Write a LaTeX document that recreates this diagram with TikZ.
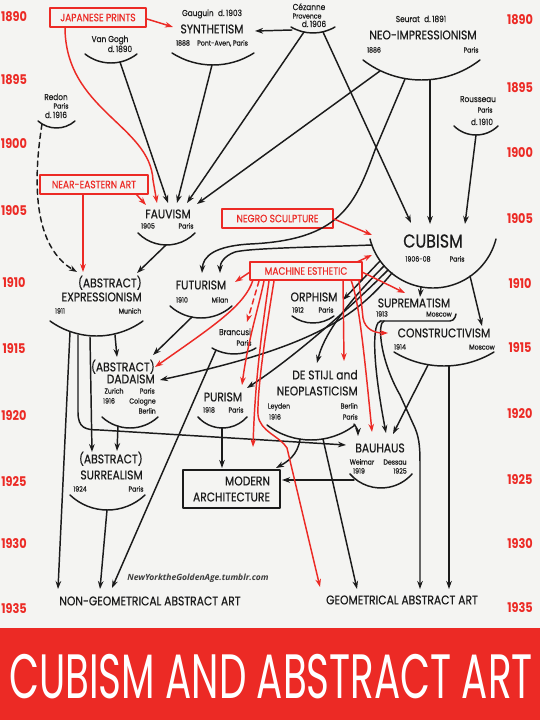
\documentclass[tikz,border=0pt]{standalone}
\usepackage{fontspec}
\setmainfont{Poppins}
\newfontfamily\chart[FakeStretch=0.85]{Poppins}
\newfontfamily\chartbold[FakeStretch=0.85,FakeBold=0.4]{Poppins}
\newfontfamily\titlefont[FakeStretch=0.62]{Poppins}
\newfontfamily\creditfont{Open Sans}
\usetikzlibrary{arrows.meta}
\definecolor{paper}{HTML}{F4F4F2}
\definecolor{barred}{HTML}{EC2A25}
\definecolor{ink}{HTML}{1B1B1B}

% bowl under a movement: centre x, level of the two ends, half width, depth
\newcommand\bowl[4]{%
  \pgfmathsetmacro\bowlr{(#3*#3+#4*#4)/(2*#4)}%
  \pgfmathsetmacro\bowlh{asin(#3/\bowlr)}%
  \draw[bowlline] ({#1-#3},#2) arc[start angle=90+\bowlh,end angle=90-\bowlh,radius=\bowlr];}

\begin{document}
\begin{tikzpicture}[x=0.75pt,y=-0.75pt,line cap=round,line join=round,
  >={Stealth[length=6pt,width=4.2pt]},
  movement/.style={font=\chartbold\fontsize{9.5}{11}\selectfont,text=ink,inner sep=0pt,text height=6.6pt,text depth=0pt},
  bigmove/.style={movement,font=\chartbold\fontsize{14}{16}\selectfont,text height=9.8pt},
  note/.style={font=\chartbold\fontsize{5.5}{6}\selectfont,text=ink,inner sep=0pt,text height=3.9pt,text depth=0pt},
  artist/.style={font=\chartbold\fontsize{6.5}{8}\selectfont,text=ink,inner sep=0pt,text height=4.6pt,text depth=0pt},
  source/.style={draw=barred,line width=1.2pt,text=barred,font=\chartbold\fontsize{8}{9}\selectfont,inner sep=0pt,text height=5.6pt,text depth=0pt},
  yearlabel/.style={font=\chart\bfseries\fontsize{10}{12}\selectfont,text=barred,inner sep=0pt,text height=7pt,text depth=0pt},
  link/.style={draw=ink,line width=1.1pt,->},
  redlink/.style={draw=barred,line width=1.1pt,->},
  bowlline/.style={draw=ink,line width=1.1pt},
  creditline/.style={font=\creditfont\bfseries\itshape\fontsize{6.4}{8}\selectfont,text=ink!85,inner sep=0pt}]
  \useasboundingbox (0,0) rectangle (540,720);
  \fill[paper] (0,0) rectangle (540,720);

  % Years down both margins.
  \foreach \yy/\ly/\ry in {1890/17/20,1895/80/88,1900/144/153,1905/211/219,1910/283/284,
      1915/349/348,1920/416/414,1925/482/480,1930/544/544,1935/609/608}{
    \node[yearlabel] (yl\yy) at (14,\ly) {\yy};
    \node[yearlabel] (yr\yy) at (520,\ry) {\yy};
  }

  % Sources from outside Europe.
  \node[source,minimum width=72pt,minimum height=14.25pt] (jp) at (98,17.5) {JAPANESE PRINTS};
  \node[source,minimum width=81pt,minimum height=14.25pt] (ne) at (94,184.5) {NEAR-EASTERN ART};
  \node[source,minimum width=83.25pt,minimum height=14.25pt] (ns) at (277.5,218.5) {NEGRO SCULPTURE};
  \node[source,minimum width=84pt,minimum height=13.5pt] (me) at (306,271) {MACHINE ESTHETIC};

  % Post-impressionist sources, 1886-1906.
  \node[artist] (gauguin) at (212,13) {Gauguin\enspace d.\,1903};
  \node[movement] (syn) at (212,29) {SYNTHETISM};
  \node[note] (syn-d) at (212,43) {1888\quad Pont-Aven, Paris};
  \bowl{213}{53}{41}{12}
  \node[artist] (vangogh) at (110,39) {Van Gogh};
  \node[artist] (vangogh-d) at (120,49) {d.\,1890};
  \bowl{111}{54}{26}{9}
  \node[artist] (cezanne) at (309,7) {Cézanne};
  \node[note] (cezanne-p) at (307,16) {Provence};
  \node[artist] (cezanne-d) at (314,24) {d.\,1906};
  \bowl{313}{27}{22}{6}
  \node[artist] (seurat) at (421,19) {Seurat\enspace d.\,1891};
  \node[movement] (neo) at (423,35) {NEO-IMPRESSIONISM};
  \node[note] (neo-y) at (374,50) {1886};
  \node[note] (neo-p) at (471,50) {Paris};
  \bowl{421.5}{60}{58.5}{20}
  \node[artist] (rousseau) at (478,99) {Rousseau};
  \node[note] (rousseau-p) at (485,110) {Paris};
  \node[artist] (rousseau-d) at (482,122) {d.\,1910};
  \bowl{476}{126}{22}{9}
  \node[artist] (redon) at (56,97) {Redon};
  \node[note] (redon-p) at (61,106) {Paris};
  \node[artist] (redon-d) at (56,115) {d.\,1916};
  \bowl{56.5}{121}{18.5}{7}

  % Fauvism and Cubism, 1905-1908.
  \node[movement] (fau) at (168,214) {FAUVISM};
  \node[note] (fau-y) at (148,226) {1905};
  \node[note] (fau-p) at (186,226) {Paris};
  \bowl{166.5}{233}{28.5}{12}
  \node[bigmove] (cub) at (433,241) {CUBISM};
  \node[note] (cub-y) at (418,259) {1906-08};
  \node[note] (cub-p) at (457,259) {Paris};
  \bowl{433}{239}{63}{49}

  % Movements of 1910-1916.
  \node[movement,anchor=east] (expr-a) at (142,283) {(ABSTRACT)};
  \node[movement,anchor=east] (expr) at (142,297) {EXPRESSIONISM};
  \node[note] (expr-y) at (60,311) {1911};
  \node[note] (expr-p) at (130,311) {Munich};
  \bowl{96.5}{321}{46.5}{15}
  \node[movement] (fut) at (201,285) {FUTURISM};
  \node[note] (fut-y) at (182,300) {1910};
  \node[note] (fut-p) at (220,300) {Milan};
  \bowl{201}{306}{31}{12}
  \node[movement] (orp) at (314,297) {ORPHISM};
  \node[note] (orp-y) at (298,310) {1912};
  \node[note] (orp-p) at (326,310) {Paris};
  \bowl{313}{316}{21}{7}
  \node[movement] (sup) at (414,303) {SUPREMATISM};
  \node[note] (sup-y) at (382,314) {1913};
  \node[note] (sup-p) at (439,314) {Moscow};
  \draw[bowlline,rounded corners=3pt] (380,321) -- (454,321) -- (456,314);
  \node[movement] (con) at (444,333) {CONSTRUCTIVISM};
  \node[note] (con-y) at (400,347) {1914};
  \node[note] (con-p) at (482,347) {Moscow};
  \bowl{444}{352}{50}{14}
  \node[artist] (brancusi) at (235,332) {Brancusi};
  \node[note] (brancusi-p) at (244,343) {Paris};
  \bowl{234}{348}{22}{6}

  % Dada, Purism, De Stijl, Bauhaus, Surrealism.
  \node[movement,anchor=east] (dada-a) at (155,367) {(ABSTRACT)};
  \node[movement,anchor=east] (dada) at (155,379) {DADAISM};
  \node[note] (dada-z) at (114,391) {Zurich};
  \node[note,anchor=east] (dada-p) at (155,391) {Paris};
  \node[note] (dada-y) at (109,401) {1916};
  \node[note,anchor=east] (dada-c) at (156,401) {Cologne};
  \node[note,anchor=east] (dada-b) at (156,411) {Berlin};
  \bowl{130}{417}{28}{11}
  \node[movement] (pur) at (223,397) {PURISM};
  \node[note] (pur-y) at (209,410) {1918};
  \node[note] (pur-p) at (236,410) {Paris};
  \bowl{222.5}{417}{24.5}{11}
  \node[movement,anchor=east] (stijl) at (358,375) {DE STIJL and};
  \node[movement,anchor=east] (neopl) at (358,391) {NEOPLASTICISM};
  \node[note] (stijl-l) at (279,406) {Leyden};
  \node[note] (stijl-y) at (275,417) {1916};
  \node[note,anchor=east] (stijl-b) at (358,406) {Berlin};
  \node[note,anchor=east] (stijl-p) at (358,417) {Paris};
  \bowl{311}{425}{44}{15}
  \node[movement] (bau) at (380,448) {BAUHAUS};
  \node[note] (bau-w) at (362,462) {Weimar};
  \node[note] (bau-d) at (395,462) {Dessau};
  \node[note] (bau-y1) at (359,471) {1919};
  \node[note] (bau-y2) at (400,471) {1925};
  \bowl{381}{474}{31}{14}
  \node[draw=ink,line width=1.2pt,font=\chartbold\fontsize{9.5}{12}\selectfont,text=ink,align=right,
    minimum width=72.75pt,minimum height=28.5pt,inner sep=2pt] (modarch) at (231.5,489) {MODERN\\ARCHITECTURE};
  \node[movement,anchor=east] (sur-a) at (143,459) {(ABSTRACT)};
  \node[movement,anchor=east] (sur) at (143,475) {SURREALISM};
  \node[note] (sur-y) at (80,489) {1924};
  \node[note] (sur-p) at (136,489) {Paris};
  \bowl{107.5}{495}{37.5}{15}

  % Outcomes, 1935.
  \node[movement] (nongeo) at (150,601) {NON-GEOMETRICAL ABSTRACT ART};
  \node[movement] (geo) at (402,600) {GEOMETRICAL ABSTRACT ART};
  \node[creditline] (credit) at (198,578) {NewYorktheGoldenAge.tumblr.com};

  % Where lines leave the bowls and boxes.
  \path (120,62) coordinate (vg-o) (212,65) coordinate (syn-o)
    (292,30) coordinate (cez-w) (304,32) coordinate (cez-o1) (323,32) coordinate (cez-o2)
    (380,71) coordinate (neo-o1) (405,79) coordinate (neo-o2) (430,80) coordinate (neo-o3)
    (476,135) coordinate (rou-o) (42,124) coordinate (red-o) (166,245) coordinate (fau-o)
    (372,245) coordinate (cub-w) (380,261) coordinate (cub-o1) (384,266) coordinate (cub-o2)
    (388,270) coordinate (cub-o3) (392,273) coordinate (cub-o4) (421,287) coordinate (cub-o5)
    (470,276) coordinate (cub-o6)
    (70,332) coordinate (exp-o1) (78,335) coordinate (exp-o2) (90,337) coordinate (exp-o3)
    (115,335) coordinate (exp-o4) (192,317) coordinate (fut-o) (216,350) coordinate (bra-o)
    (118,426) coordinate (dad-o) (107,510) coordinate (sur-o) (222,428) coordinate (pur-o)
    (300,439) coordinate (stj-o1) (323,439) coordinate (stj-o2) (354,424) coordinate (stj-o3)
    (381,321) coordinate (sup-o1) (384,321) coordinate (sup-o2)
    (428,365) coordinate (con-o1) (449,366) coordinate (con-o2) (354,480) coordinate (bau-o);
  \path (147,19) coordinate (jp-e) (65,27) coordinate (jp-s)
    (83,194) coordinate (ne-s) (136,194) coordinate (ne-e) (334,219) coordinate (ns-e)
    (250,272) coordinate (me-w) (253,280) coordinate (me-s1) (259,281) coordinate (me-s2)
    (264,281) coordinate (me-s3) (269,281) coordinate (me-s4) (274,281) coordinate (me-s5)
    (343,280) coordinate (me-s6) (351,280) coordinate (me-s7) (359,280) coordinate (me-s8)
    (357,262) coordinate (me-n) (362,272) coordinate (me-e);
  % Where they arrive.
  \path (255,31) coordinate (syn-e) (173,27) coordinate (syn-r)
    (157,203) coordinate (fau-i0) (168,203) coordinate (fau-i1) (177,203) coordinate (fau-i2)
    (187,203) coordinate (fau-i3) (197,204) coordinate (fau-i4) (146,205) coordinate (fau-i5)
    (411,223) coordinate (cub-i1) (430,224) coordinate (cub-i2) (465,224) coordinate (cub-i3)
    (372,235) coordinate (cub-r1) (372,255) coordinate (cub-r2)
    (202,273) coordinate (fut-i1) (220,273) coordinate (fut-i2) (235,282) coordinate (fut-r)
    (77,272) coordinate (exp-i1) (83,272) coordinate (exp-r) (137,273) coordinate (exp-i2)
    (343,300) coordinate (orp-i) (420,297) coordinate (sup-i) (405,293) coordinate (sup-r)
    (482,326) coordinate (con-i) (388,333) coordinate (con-r) (247,322) coordinate (bra-r)
    (117,357) coordinate (dad-i1) (153,355) coordinate (dad-i2) (155,367) coordinate (dad-r)
    (160,380) coordinate (dad-i3) (247,388) coordinate (pur-i) (242,385) coordinate (pur-r)
    (317,363) coordinate (stj-i) (344,361) coordinate (stj-r)
    (92,452) coordinate (sur-i1) (117,451) coordinate (sur-i2)
    (222,468) coordinate (ma-i1) (276,468) coordinate (ma-i2) (282,480) coordinate (ma-i3)
    (253,447) coordinate (ma-r)
    (346,445) coordinate (bau-i0) (358,436) coordinate (bau-i1) (372,432) coordinate (bau-r)
    (386,433) coordinate (bau-i2) (393,434) coordinate (bau-i3)
    (58,589) coordinate (ng-i1) (100,589) coordinate (ng-i2) (112,588) coordinate (ng-i3)
    (320,587) coordinate (geo-r) (357,589) coordinate (geo-i1) (420,589) coordinate (geo-i2)
    (449,589) coordinate (geo-i3);

  % Black lines of descent.
  \draw[link] (cez-w) -- (syn-e);
  \draw[link] (vg-o) -- (fau-i1);
  \draw[link] (syn-o) -- (fau-i2);
  \draw[link] (cez-o1) -- (fau-i3);
  \draw[link] (neo-o1) -- (fau-i4);
  \draw[link] (cez-o2) -- (cub-i1);
  \draw[link] (neo-o3) -- (cub-i2);
  \draw[link] (rou-o) -- (cub-i3);
  \draw[link] (neo-o2) -- (375,150) .. controls (355,205) and (340,240) .. (250,244)
    .. controls (215,246) and (203,256) .. (fut-i1);
  \draw[link] (cub-w) .. controls (320,247) and (250,248) .. (235,252)
    .. controls (224,256) and (220,263) .. (fut-i2);
  \draw[link,dash pattern=on 4pt off 3pt] (red-o) .. controls (30,200) and (40,250) .. (exp-i1);
  \draw[link] (fau-o) -- (exp-i2);
  \draw[link] (cub-o1) -- (orp-i);
  \draw[link] (cub-o2) .. controls (355,295) and (325,330) .. (stj-i);
  \draw[link] (cub-o3) .. controls (345,313) and (290,360) .. (pur-i);
  \draw[link] (cub-o4) .. controls (355,318) and (310,348) .. (dad-i3);
  \draw[link] (cub-o5) -- (sup-i);
  \draw[link] (cub-o6) -- (con-i);
  \draw[link] (fut-o) -- (dad-i2);
  \draw[link] (exp-o1) -- (ng-i1);
  \draw[link] (exp-o2) -- (78,412) .. controls (78,428) and (85,430) .. (100,430) -- (bau-i0);
  \draw[link] (exp-o3) -- (sur-i1);
  \draw[link] (exp-o4) -- (dad-i1);
  \draw[link] (dad-o) -- (sur-i2);
  \draw[link] (bra-o) -- (ng-i3);
  \draw[link] (sur-o) -- (ng-i2);
  \draw[link] (pur-o) -- (ma-i1);
  \draw[link] (stj-o1) .. controls (298,455) and (287,462) .. (ma-i2);
  \draw[link] (stj-o3) .. controls (357,428) and (358,431) .. (bau-i1);
  \draw[link] (stj-o2) -- (geo-i1);
  \draw[link] (bau-o) -- (ma-i3);
  \draw[link] (sup-o1) .. controls (372,321) and (372,360) .. (bau-i2);
  \draw[link] (sup-o2) .. controls (377,323) and (380,360) .. (400,395) -- (415,428)
    .. controls (420,440) and (420,450) .. (420,470) -- (geo-i2);
  \draw[link] (con-o1) -- (bau-i3);
  \draw[link] (con-o2) -- (geo-i3);

  % Red lines from the outside sources.
  \draw[redlink] (jp-e) -- (syn-r);
  \draw[redlink] (jp-s) .. controls (65,110) and (150,125) .. (153,180) -- (fau-i0);
  \draw[redlink] (ne-s) -- (exp-r);
  \draw[redlink] (ne-e) -- (fau-i5);
  \draw[redlink] (ns-e) -- (cub-r1);
  \draw[redlink] (me-n) -- (cub-r2);
  \draw[redlink] (me-w) -- (fut-r);
  \draw[redlink,dash pattern=on 4pt off 3pt] (me-s2) -- (bra-r);
  \draw[redlink] (me-s1) .. controls (245,305) and (215,325) .. (dad-r);
  \draw[redlink] (me-s3) .. controls (258,310) and (248,340) .. (pur-r);
  \draw[redlink] (me-s4) .. controls (262,330) and (255,380) .. (ma-r);
  \draw[redlink] (me-s5) .. controls (266,330) and (257,390) .. (258,415)
    .. controls (260,432) and (280,436) .. (287,448) -- (geo-r);
  \draw[redlink] (me-e) -- (sup-r);
  \draw[redlink] (me-s6) -- (stj-r);
  \draw[redlink] (me-s7) .. controls (358,300) and (362,330) .. (bau-r);
  \draw[redlink] (me-s8) -- (363,318) .. controls (365,329) and (374,333) .. (con-r);

  % Title band.
  \fill[barred] (0,628) rectangle (540,720);
  \node[font=\titlefont\fontsize{47}{50}\selectfont,text=white,inner sep=0pt,
    text height=33pt,text depth=0pt] (title) at (271,676) {CUBISM AND ABSTRACT ART};
\end{tikzpicture}
\end{document}
